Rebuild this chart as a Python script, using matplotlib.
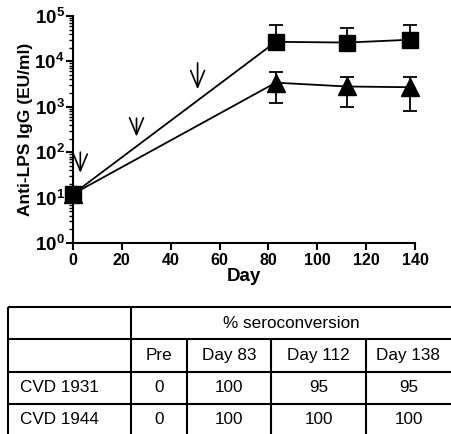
import numpy as np
import matplotlib
matplotlib.use('Agg')
from matplotlib import pyplot as plt
from matplotlib.ticker import LogLocator, FixedLocator, NullFormatter

plt.rcParams['font.family'] = ['Liberation Sans', 'DejaVu Sans']
plt.rcParams['mathtext.fontset'] = 'custom'
plt.rcParams['mathtext.rm'] = 'Liberation Sans:bold'
plt.rcParams['mathtext.it'] = 'Liberation Sans:bold'
plt.rcParams['mathtext.bf'] = 'Liberation Sans:bold'

# Data #
days = [0, 83, 112, 138]
sq_mean = [12, 27000, 26000, 30000]
sq_upper = [12, 63000, 55000, 63000]
tri_mean = [12, 3400, 2800, 2700]
tri_upper = [12, 5900, 4600, 4600]
tri_lower = [12, 1230, 980, 810]

# vaccination arrows: day, tail, tip
arrow_days = [3, 26, 51]
arrow_tails = [100, 560, 9300]
arrow_tips = [35, 220, 2430]

# table
tbl_cols = ['Pre', 'Day 83', 'Day 112', 'Day 138']
tbl_rows = ['CVD 1931', 'CVD 1944']
tbl_vals = [[0, 100, 95, 95],
            [0, 100, 100, 100]]
tbl_header = '% seroconversion'

################################################################################
W, H = 451, 434
fig = plt.figure(figsize=(W / 100.0, H / 100.0), dpi=100)
ax = fig.add_axes([73.0 / W, 1 - 243.0 / H, (415 - 73.0) / W, (243 - 16.0) / H])

sq_mean = np.array(sq_mean, float)
tri_mean = np.array(tri_mean, float)
sq_err = [np.zeros(len(days)), np.array(sq_upper) - sq_mean]
tri_err = [tri_mean - np.array(tri_lower), np.array(tri_upper) - tri_mean]

ax.errorbar(days, tri_mean, yerr=tri_err, color='black', marker='^', ms=12.5,
            lw=1.3, capsize=5, capthick=1.3, elinewidth=1.3, clip_on=False, zorder=3)
ax.errorbar(days, sq_mean, yerr=sq_err, color='black', marker='s', ms=11,
            lw=1.3, capsize=5, capthick=1.3, elinewidth=1.3, clip_on=False, zorder=4)

for d, t0, t1 in zip(arrow_days, arrow_tails, arrow_tips):
    ax.annotate('', xy=(d, t1), xytext=(d, t0),
                arrowprops=dict(arrowstyle='->, head_length=0.6, head_width=0.25',
                                lw=1.2, color='black',
                                mutation_scale=20, shrinkA=0, shrinkB=0))

ax.set_yscale('log')
ax.set_ylim(1, 1e5)
ax.set_xlim(0, 140)
ax.set_xticks([0, 20, 40, 60, 80, 100, 120, 140])
ax.set_yticks([10 ** i for i in range(6)])
ax.set_yticklabels(['$10^{%d}$' % i for i in range(6)])
ax.yaxis.set_minor_locator(LogLocator(base=10, subs=np.arange(2, 10), numticks=20))
ax.yaxis.set_minor_formatter(NullFormatter())

for s in ['top', 'right']:
    ax.spines[s].set_visible(False)
for s in ['left', 'bottom']:
    ax.spines[s].set_linewidth(1.5)
ax.tick_params(axis='both', which='major', length=5, width=1.5, labelsize=11.5, pad=2)
ax.tick_params(axis='y', which='major', labelsize=13.5, pad=1)
ax.tick_params(axis='y', which='minor', length=3, width=1.0)
for lab in ax.get_xticklabels():
    lab.set_fontweight('bold')

ax.set_xlabel('Day', fontsize=13.5, fontweight='bold', labelpad=0)
ax.set_ylabel('Anti-LPS IgG (EU/ml)', fontsize=12.5, fontweight='bold', labelpad=1)

################################################################################
# Table #
tx = fig.add_axes([0, 0, 1, 1], facecolor='none')
tx.set_xlim(0, W)
tx.set_ylim(H, 0)
tx.axis('off')

col_edges = [8, 131, 187, 271, 366, 451]
row_edges = [307, 339, 372, 404, 436]
lw = 1.5
tx.hlines(row_edges[:-1], col_edges[0], W, color='black', lw=lw)
tx.vlines([col_edges[0], col_edges[1]], row_edges[0], H, color='black', lw=lw)
tx.vlines(col_edges[2:5], row_edges[1], H, color='black', lw=lw)

fs = 12.3
tx.text((col_edges[1] + W) / 2.0, (row_edges[0] + row_edges[1]) / 2.0, tbl_header,
        ha='center', va='center', fontsize=fs)
for j, c in enumerate(tbl_cols):
    xc = (col_edges[j + 1] + col_edges[j + 2]) / 2.0
    tx.text(xc, (row_edges[1] + row_edges[2]) / 2.0, c, ha='center', va='center', fontsize=fs)
for i, r in enumerate(tbl_rows):
    yc = (row_edges[i + 2] + row_edges[i + 3]) / 2.0
    tx.text(col_edges[0] + 12, yc, r, ha='left', va='center', fontsize=fs)
    for j, v in enumerate(tbl_vals[i]):
        xc = (col_edges[j + 1] + col_edges[j + 2]) / 2.0
        tx.text(xc, yc, str(v), ha='center', va='center', fontsize=fs)

fig.savefig('out.png', dpi=100)
